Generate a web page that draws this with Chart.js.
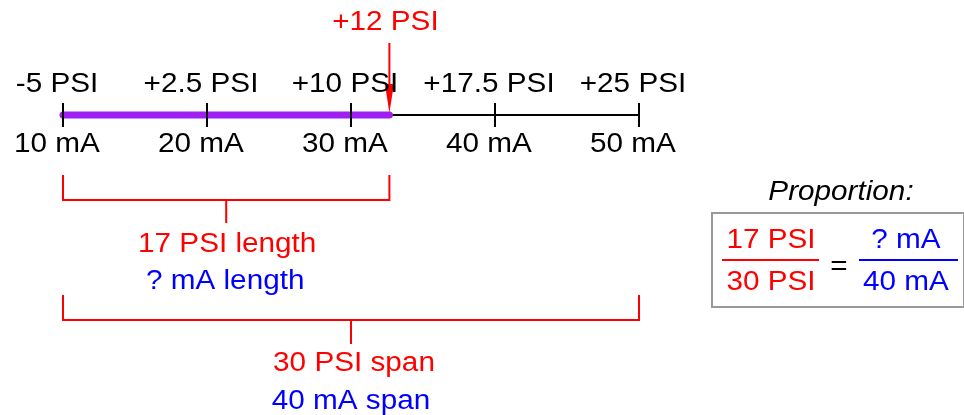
<!DOCTYPE html>
<html>
<head>
<meta charset="utf-8">
<script src="https://cdn.jsdelivr.net/npm/chart.js@4/dist/chart.umd.min.js"></script>
<style>
  html, body { margin: 0; padding: 0; background: #fff; }
  canvas { display: block; }
</style>
</head>
<body>
<canvas id="scaleChart" width="964" height="415"></canvas>
<script>
// skala: 10-50 mA motsvarar -5..+25 PSI
const maValues = [10, 20, 30, 40, 50];
const maLabels = ["10 mA", "20 mA", "30 mA", "40 mA", "50 mA"];
const psiValues = [-5, 2.5, 10, 17.5, 25];
const psiLabels = ["-5 PSI", "+2.5 PSI", "+10 PSI", "+17.5 PSI", "+25 PSI"];
const measuredPsi = 12;
const measuredLabel = "+12 PSI";
const lengthLabels = ["17 PSI length", "? mA length"];
const spanLabels = ["30 PSI span", "40 mA span"];
const fractionLeft = ["17 PSI", "30 PSI"];
const fractionRight = ["? mA", "40 mA"];

const psiMin = psiValues[0], psiMax = psiValues[psiValues.length - 1];
const maMin = maValues[0], maMax = maValues[maValues.length - 1];
const psiToMa = p => maMin + (p - psiMin) / (psiMax - psiMin) * (maMax - maMin);
const measuredMa = psiToMa(measuredPsi);

const RED = "#ff0000", BLUE = "#0000ff", PURPLE = "#9d20f0";
const FONT = "Liberation Sans, Arial, sans-serif";
const AXIS_Y = 115;

function seg(points, color, width, order) {
  return {
    data: points.map(([x, y]) => ({ x, y })),
    showLine: true, borderColor: color, borderWidth: width,
    pointRadius: 0, fill: false, tension: 0, order: order || 0
  };
}

const datasets = [
  seg([[maMin, AXIS_Y], [maMax, AXIS_Y]], "#000", 2, 3),
  Object.assign(seg([[maMin, AXIS_Y], [measuredMa, AXIS_Y]], PURPLE, 7, 2), { borderCapStyle: "round" }),
  {
    // tick marks
    data: maValues.map(v => ({ x: v, y: AXIS_Y })),
    pointStyle: "line", rotation: 90, pointRadius: 12,
    pointBorderColor: "#000", pointBorderWidth: 2, showLine: false, order: 1
  },
  // arrow stem
  seg([[measuredMa, 43], [measuredMa, 90]], RED, 2),
  // length bracket
  seg([[maMin, 175], [maMin, 200], [measuredMa, 200], [measuredMa, 175]], RED, 2),
  seg([[(maMin + measuredMa) / 2, 200], [(maMin + measuredMa) / 2, 223]], RED, 2),
  // span bracket
  seg([[maMin, 295], [maMin, 320], [maMax, 320], [maMax, 295]], RED, 2),
  seg([[(maMin + maMax) / 2, 320], [(maMin + maMax) / 2, 344]], RED, 2)
];

// text a bit wider than Liberation Sans, like the original
function txt(ctx, s, x, y) {
  ctx.save();
  ctx.translate(x, y);
  ctx.scale(1.1, 1);
  ctx.fillText(s, 0, 0);
  ctx.restore();
}

const textPlugin = {
  id: "texts",
  afterDatasetsDraw(chart) {
    const ctx = chart.ctx;
    const x = chart.scales.x;
    const px = v => x.getPixelForValue(v);
    ctx.save();
    ctx.textAlign = "center";
    ctx.textBaseline = "alphabetic";

    // arrow head
    const ax = px(measuredMa);
    ctx.fillStyle = RED;
    ctx.beginPath();
    ctx.moveTo(ax - 4.5, 84);
    ctx.lineTo(ax + 4.5, 84);
    ctx.lineTo(ax, 113);
    ctx.closePath();
    ctx.fill();

    ctx.font = "27px " + FONT;
    ctx.fillStyle = "#000";
    psiValues.forEach((p, i) => txt(ctx, psiLabels[i], px(psiToMa(p)) - 6, 92));
    maValues.forEach((m, i) => txt(ctx, maLabels[i], px(m) - 6, 152));

    ctx.fillStyle = RED;
    txt(ctx, measuredLabel, ax - 4, 30);

    const lx = px((maMin + measuredMa) / 2);
    txt(ctx, lengthLabels[0], lx + 1, 252);
    ctx.fillStyle = BLUE;
    txt(ctx, lengthLabels[1], lx - 1, 289);

    const sx = px((maMin + maMax) / 2);
    ctx.fillStyle = RED;
    txt(ctx, spanLabels[0], sx + 3, 371);
    ctx.fillStyle = BLUE;
    txt(ctx, spanLabels[1], sx, 409);

    // proportion box
    ctx.font = "italic 27px " + FONT;
    ctx.fillStyle = "#000";
    txt(ctx, "Proportion:", 841, 200);
    ctx.strokeStyle = "#999";
    ctx.lineWidth = 2;
    ctx.strokeRect(712, 213, 252, 94);

    ctx.font = "27px " + FONT;
    ctx.fillStyle = RED;
    txt(ctx, fractionLeft[0], 771, 248);
    txt(ctx, fractionLeft[1], 771, 290);
    ctx.fillRect(722, 259, 97, 2);
    ctx.fillStyle = "#000";
    txt(ctx, "=", 839, 275);
    ctx.fillStyle = BLUE;
    txt(ctx, fractionRight[0], 906, 248);
    txt(ctx, fractionRight[1], 906, 290);
    ctx.fillRect(859, 259, 99, 2);
    ctx.restore();
  }
};

new Chart(document.getElementById("scaleChart"), {
  type: "scatter",
  data: { datasets },
  options: {
    responsive: false,
    animation: false,
    layout: { padding: 0, autoPadding: false },
    plugins: { legend: { display: false }, tooltip: { enabled: false } },
    scales: {
      x: { type: "linear", display: false, min: maMin - 63 / 14.4, max: maMin + (964 - 63) / 14.4 },
      y: { type: "linear", display: false, min: 0, max: 415, reverse: true }
    }
  },
  plugins: [textPlugin]
});
</script>
</body>
</html>
